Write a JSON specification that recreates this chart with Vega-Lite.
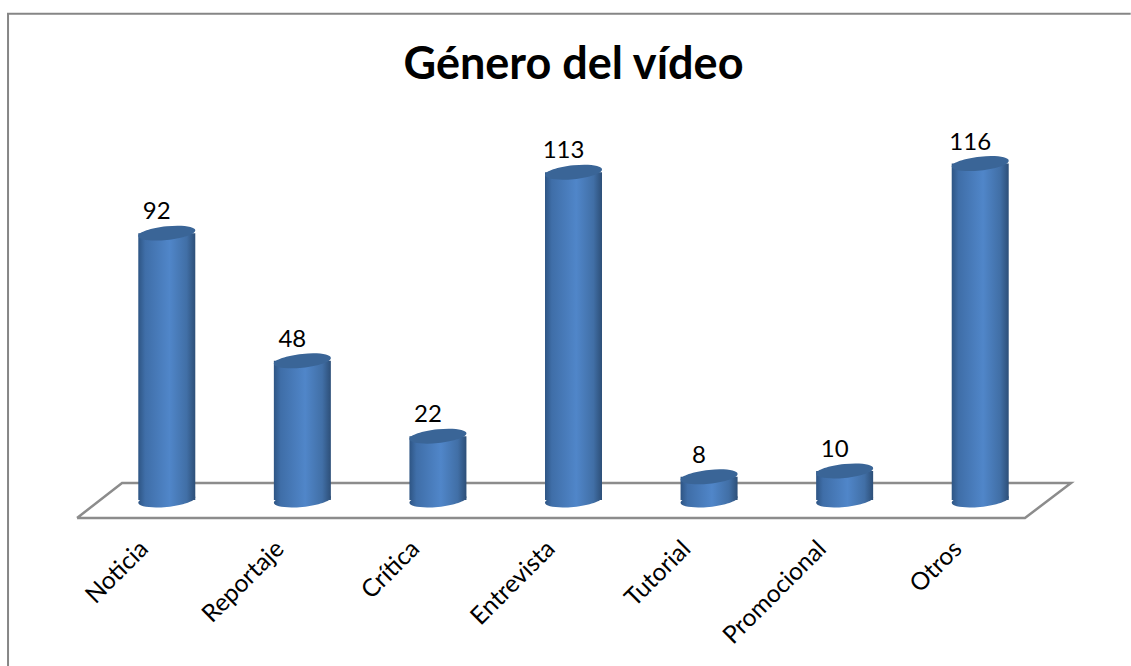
{
"$schema":"https://vega.github.io/schema/vega-lite/v6.json",
"width":949,"height":418,
"autosize":{"type":"none"},
"padding":{"left":99,"top":100,"right":83,"bottom":148},
"background":"white",
"view":{"stroke":null},
"title":{"text":"Género del vídeo","font":"Lato","fontSize":45,"fontWeight":"bold","color":"#000000","anchor":"middle","offset":-78},
"datasets":{
"bars":[{"genero":"Noticia","valor":92},{"genero":"Reportaje","valor":48},{"genero":"Crítica","valor":22},{"genero":"Entrevista","valor":113},{"genero":"Tutorial","valor":8},{"genero":"Promocional","valor":10},{"genero":"Otros","valor":116}],
"floor":[{"fx":-0.162,"fy":-6.2,"o":0},{"fx":6.83,"fy":-6.2,"o":1},{"fx":7.17,"fy":5.86,"o":2},{"fx":0.17,"fy":5.86,"o":3},{"fx":-0.162,"fy":-6.2,"o":4}],
"frame":[{"fx":-0.671,"fy":-57.2,"o":0},{"fx":-0.671,"fy":167.6,"o":1},{"fx":7.61,"fy":167.6,"o":2}]
},
"resolve":{"scale":{"x":"independent"}},
"layer":[
{"data":{"name":"frame"},"mark":{"type":"line","stroke":"#868686","strokeWidth":2,"clip":false},
"encoding":{"x":{"field":"fx","type":"quantitative","scale":{"domain":[0,7],"nice":false,"zero":false},"axis":null},"y":{"field":"fy","type":"quantitative","scale":{"domain":[-6.2,137.9],"nice":false,"zero":false},"axis":null},"order":{"field":"o"}}},
{"data":{"name":"floor"},"mark":{"type":"line","stroke":"#8c8c8c","strokeWidth":2.5,"clip":false},
"encoding":{"x":{"field":"fx","type":"quantitative","scale":{"domain":[0,7],"nice":false,"zero":false},"axis":null},"y":{"field":"fy","type":"quantitative"},"order":{"field":"o"}}},
{"data":{"name":"bars"},
"encoding":{"x":{"field":"genero","type":"nominal","sort":null,"title":null,"scale":{"paddingInner":0.58,"paddingOuter":0.29},"axis":{"title":null,"domain":false,"ticks":false,"labelAngle":-45,"labelAlign":"right","labelBaseline":"middle","labelFont":"Lato","labelFontSize":24.5,"labelColor":"#000000","labelOffset":-22,"labelPadding":27}}},
"layer":[
{"mark":{"type":"point","filled":true,"size":3249,"opacity":1,"shape":"M-1,0.1 A1,0.24 -6 1 1 1,-0.1 A1,0.24 -6 1 1 -1,0.1 Z","fill":{"gradient":"linear","x1":0,"x2":1,"y1":0,"y2":0,"stops":[{"offset":0,"color":"#2e5584"},{"offset":0.12,"color":"#3f6ea8"},{"offset":0.55,"color":"#5086c9"},{"offset":0.85,"color":"#416fa6"},{"offset":1,"color":"#2d4f78"}]}},
"encoding":{"y":{"datum":0,"type":"quantitative"}}},
{"mark":{"type":"bar","size":57,"fill":{"gradient":"linear","x1":0,"x2":1,"y1":0,"y2":0,"stops":[{"offset":0,"color":"#2e5584"},{"offset":0.12,"color":"#3f6ea8"},{"offset":0.55,"color":"#5086c9"},{"offset":0.85,"color":"#416fa6"},{"offset":1,"color":"#2d4f78"}]}},
"encoding":{"y":{"field":"valor","type":"quantitative"}}},
{"mark":{"type":"point","filled":true,"size":3249,"opacity":1,"fill":"#3a6597","shape":"M-1,0.1 A1,0.24 -6 1 1 1,-0.1 A1,0.24 -6 1 1 -1,0.1 Z"},
"encoding":{"y":{"field":"valor","type":"quantitative"}}},
{"mark":{"type":"text","font":"Lato","fontSize":24,"color":"#000000","dx":-10,"dy":-21,"baseline":"middle","align":"center"},
"encoding":{"y":{"field":"valor","type":"quantitative"},"text":{"field":"valor","type":"quantitative"}}}
]}
]
}
